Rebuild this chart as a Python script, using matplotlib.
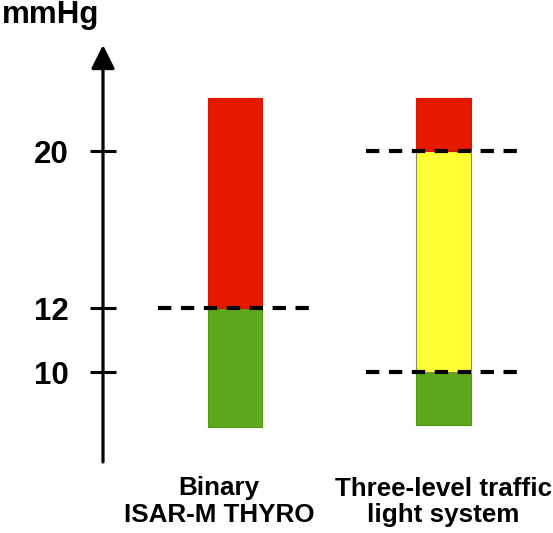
import numpy as np
import matplotlib
matplotlib.use("Agg")
import matplotlib.pyplot as plt
import matplotlib.transforms as mtransforms
from matplotlib.scale import FuncScale

plt.rcParams['font.family'] = ['Liberation Sans', 'DejaVu Sans']
plt.rcParams['font.weight'] = 'bold'

# ---- data ----
categories = ['Binary\nISAR-M THYRO', 'Three-level traffic\nlight system']
binary_bounds = [8.3, 12, 22.7]
binary_colors = ['#5FA81B', '#E51A00']
traffic_bounds = [8.35, 10, 20, 22.7]
traffic_colors = ['#5FA81B', '#FFFF33', '#E51A00']
binary_thresholds = [12]
traffic_thresholds = [10, 20]
tick_values = [10, 12, 20]
tick_labels = ['10', '12', '20']
unit_label = 'mmHg'

edge_colors = {'#5FA81B': '#4E9A14', '#FFFF33': '#8C8C5A', '#E51A00': '#D81600'}
label_dx = [-0.077, 0.0]   # horizontal nudge of category labels

# schematic (piecewise-linear) scale
def fwd(v):
    v = np.asarray(v, dtype=float)
    return np.where(v < 12, 32.0 * (v - 12), 19.6 * (v - 12))

def inv(p):
    p = np.asarray(p, dtype=float)
    return np.where(p < 0, p / 32.0 + 12, p / 19.6 + 12)

W, H = 553, 533
fig = plt.figure(figsize=(W / 100, H / 100), dpi=100)
ax = fig.add_axes([103 / W, (H - 462) / H, (W - 103) / W, 417 / H])
ax.set_yscale(FuncScale(ax.yaxis, (fwd, inv)))
ax.set_ylim(7.2, 25.4)
ax.set_xlim(-0.633, 1.525)

bar_w = 0.26
for xi, (bounds, cols) in enumerate([(binary_bounds, binary_colors),
                                     (traffic_bounds, traffic_colors)]):
    for lo, hi, c in zip(bounds[:-1], bounds[1:], cols):
        ax.bar(xi, hi - lo, bottom=lo, width=bar_w, color=c,
               edgecolor=edge_colors[c], linewidth=0.8, zorder=2)

half = 0.37
for xi, ths in enumerate([binary_thresholds, traffic_thresholds]):
    for t in ths:
        ax.hlines(t, xi - half, xi + half, colors='black', linewidth=3,
                  linestyles=(0, (3.2, 2.3)), zorder=3)

for s in ['top', 'right', 'bottom', 'left']:
    ax.spines[s].set_visible(False)

# y axis with arrow
ax.annotate('', xy=(0, 1), xytext=(0, 0), xycoords='axes fraction',
            arrowprops=dict(arrowstyle='-|>', lw=2.3, color='black',
                            mutation_scale=36, shrinkA=0, shrinkB=0),
            annotation_clip=False)

ax.set_yticks(tick_values)
ax.set_yticklabels(tick_labels, fontsize=22.5, fontweight='bold')
ax.yaxis.set_minor_locator(matplotlib.ticker.NullLocator())
ax.tick_params(axis='y', direction='inout', length=18.7, width=2.2, pad=15.5,
               colors='black')

ax.set_xticks([])
trans = mtransforms.blended_transform_factory(ax.transData, ax.transAxes)
trans = mtransforms.offset_copy(trans, fig=fig, x=0, y=-14.5, units='dots')
for xi, lab in enumerate(categories):
    ax.text(xi + label_dx[xi], 0, lab, transform=trans, ha='center', va='top',
            fontsize=18.7, fontweight='bold', linespacing=1.15)

fig.text(2 / W, 1 - 22.5 / H, unit_label, fontsize=22.5, fontweight='bold',
         ha='left', va='baseline')

fig.savefig('out.png', dpi=100)
